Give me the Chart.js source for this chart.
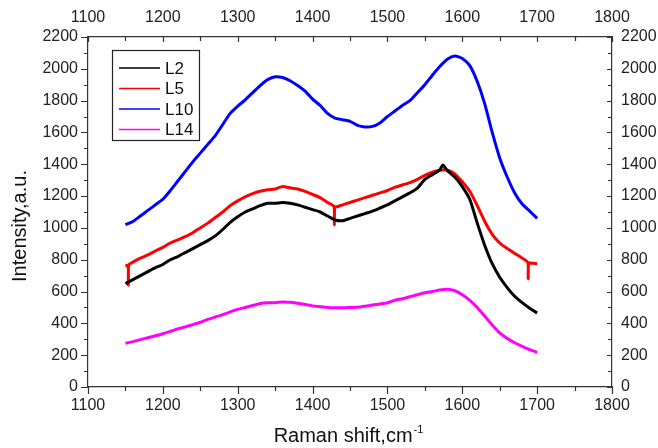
<!DOCTYPE html>
<html>
<head>
<meta charset="utf-8">
<script src="https://cdn.jsdelivr.net/npm/chart.js@4"></script>
<style>
    body { margin: 0; background: #fff; }
    canvas { display: block; }
</style>
</head>
<body>
<canvas id="grafico" width="658" height="448"></canvas>
<script>
// --- DADOS DOS ESPECTROS RAMAN ---
const deslocamentoRaman = [
    1150, 1160, 1170, 1180, 1190, 1200, 1210, 1220, 1230, 1240,
    1250, 1260, 1270, 1280, 1290, 1300, 1310, 1320, 1330, 1340,
    1350, 1360, 1370, 1380, 1390, 1400, 1410, 1420, 1430, 1440,
    1450, 1460, 1470, 1480, 1490, 1500, 1510, 1520, 1530, 1540,
    1550, 1560, 1570, 1580, 1590, 1600, 1610, 1620, 1630, 1640,
    1650, 1660, 1670, 1680, 1690, 1700
];

const intensidadeL2 = [
    650, 675, 700, 725, 750, 770, 800, 820, 845, 870,
    895, 920, 950, 990, 1035, 1070, 1100, 1120, 1140, 1155,
    1155, 1160, 1155, 1145, 1130, 1115, 1100, 1075, 1050, 1045,
    1060, 1075, 1090, 1105, 1125, 1145, 1170, 1195, 1220, 1250,
    1305, 1335, 1365, 1360, 1320, 1260, 1180, 1030, 890, 775,
    690, 625, 570, 530, 495, 465
];

const intensidadeL5 = [
    760, 785, 810, 830, 855, 878, 905, 925, 945, 970,
    1000, 1030, 1065, 1100, 1140, 1170, 1195, 1215, 1230, 1240,
    1245, 1260, 1252, 1245, 1230, 1210, 1190, 1160, 1130, 1145,
    1160, 1175, 1190, 1205, 1220, 1235, 1255, 1270, 1285, 1305,
    1330, 1350, 1362, 1365, 1340, 1290, 1230, 1140, 1040, 960,
    905, 870, 840, 810, 780, 775
];

const intensidadeL10 = [
    1020, 1040, 1075, 1110, 1145, 1180, 1235, 1295, 1355, 1415,
    1470, 1525, 1580, 1650, 1720, 1765, 1805, 1850, 1895, 1932,
    1950, 1945, 1925, 1895, 1860, 1810, 1770, 1720, 1690, 1680,
    1670, 1645, 1635, 1638, 1660, 1700, 1735, 1770, 1800, 1850,
    1900, 1960, 2015, 2060, 2080, 2065, 2020, 1920, 1780, 1600,
    1440, 1320, 1220, 1150, 1105, 1060
];

const intensidadeL14 = [
    275, 285, 298, 310, 322, 335, 350, 365, 378, 392,
    407, 425, 440, 455, 472, 488, 500, 512, 525, 530,
    530, 535, 532, 527, 518, 510, 505, 500, 498, 498,
    500, 502, 508, 515, 522, 530, 545, 555, 567, 580,
    592, 600, 610, 615, 605, 580, 545, 500, 445, 390,
    340, 305, 278, 255, 235, 218
];

// picos isolados (ruído do detector)
const picosL2 = [[1574, 1395]];
const picosL5 = [[1153.6, 765], [1154, 640], [1154.4, 768], [1428.6, 1135], [1429, 1020], [1429.4, 1134], [1687.6, 782], [1688, 680], [1688.4, 781]];

const rotulosX = [1100, 1200, 1300, 1400, 1500, 1600, 1700, 1800];
const rotulosY = [0, 200, 400, 600, 800, 1000, 1200, 1400, 1600, 1800, 2000, 2200];

const nomesSeries = ['L2', 'L5', 'L10', 'L14'];
const coresSeries = ['#000000', '#ff0000', '#0000ff', '#ff00ff'];

function montarPontos(valores, picos) {
    const pontos = deslocamentoRaman.map((x, i) => ({ x: x, y: valores[i] }));
    (picos || []).forEach(p => pontos.push({ x: p[0], y: p[1] }));
    return pontos.sort((a, b) => a.x - b.x);
}

const fonteTexto = '"Liberation Sans", Arial, sans-serif';

// Ticks: inferior/esquerdo para fora, superior/direito para dentro
const ticksManuais = {
    id: 'ticksManuais',
    afterDraw(chart) {
        const ctx = chart.ctx;
        const { x, x2, y, y2 } = chart.scales;
        ctx.save();
        ctx.strokeStyle = '#333';
        ctx.lineWidth = 1.2;
        ctx.beginPath();
        for (let v = rotulosX[0]; v <= rotulosX[rotulosX.length - 1]; v += 50) {
            const px = Math.round(x.getPixelForValue(v)) + 0.5;
            const maior = v % 100 === 0;
            ctx.moveTo(px, x.top);
            ctx.lineTo(px, x.top + (maior ? 7 : 4));
            ctx.moveTo(px, x2.bottom);
            ctx.lineTo(px, x2.bottom + (maior ? 5 : 4));
        }
        for (let v = rotulosY[0]; v <= rotulosY[rotulosY.length - 1]; v += 100) {
            const py = Math.round(y.getPixelForValue(v)) + 0.5;
            const maior = v % 200 === 0;
            ctx.moveTo(y.right, py);
            ctx.lineTo(y.right - (maior ? 7 : 4), py);
            ctx.moveTo(y2.left, py);
            ctx.lineTo(y2.left - (maior ? 5 : 4), py);
        }
        ctx.stroke();
        ctx.restore();
    }
};

// Títulos dos eixos (com sobrescrito no cm-1)
const titulosEixos = {
    id: 'titulosEixos',
    afterDraw(chart) {
        const ctx = chart.ctx;
        const area = chart.chartArea;
        ctx.save();
        ctx.fillStyle = '#111';
        ctx.textBaseline = 'alphabetic';

        const principal = 'Raman shift,cm';
        ctx.font = '11px ' + fonteTexto;
        const wSup = ctx.measureText('-1').width;
        ctx.font = '20px ' + fonteTexto;
        const wPrin = ctx.measureText(principal).width;
        const xIni = (area.left + area.right) / 2 - 2 - (wPrin + wSup) / 2;
        ctx.textAlign = 'left';
        ctx.fillText(principal, xIni, 442);
        ctx.font = '11px ' + fonteTexto;
        ctx.fillText('-1', xIni + wPrin + 1, 433);

        ctx.translate(26, 226);
        ctx.rotate(-Math.PI / 2);
        ctx.font = '20px ' + fonteTexto;
        ctx.textAlign = 'center';
        ctx.fillText('Intensity,a.u.', 0, 0);
        ctx.restore();
    }
};

// Legenda dentro da área do gráfico
const legendaCaixa = {
    id: 'legendaCaixa',
    afterDraw(chart) {
        const ctx = chart.ctx;
        const caixa = { x: 112, y: 50, w: 87, h: 90 };
        ctx.save();
        ctx.fillStyle = '#fff';
        ctx.fillRect(caixa.x, caixa.y, caixa.w, caixa.h);
        ctx.strokeStyle = '#222';
        ctx.lineWidth = 1.2;
        ctx.strokeRect(caixa.x + 0.5, caixa.y + 0.5, caixa.w, caixa.h);
        ctx.font = '17px ' + fonteTexto;
        ctx.textBaseline = 'middle';
        ctx.textAlign = 'left';
        chart.data.datasets.forEach((ds, i) => {
            const ly = caixa.y + 18 + i * 20.5;
            ctx.strokeStyle = ds.borderColor;
            ctx.lineWidth = 1.6;
            ctx.beginPath();
            ctx.moveTo(119, ly);
            ctx.lineTo(160, ly);
            ctx.stroke();
            ctx.fillStyle = '#111';
            ctx.fillText(ds.label, 165, ly + 1);
        });
        ctx.restore();
    }
};

function eixoX(posicao, altura, padding) {
    return {
        type: 'linear',
        position: posicao,
        min: 1100,
        max: 1800,
        grid: { display: false, drawTicks: false },
        border: { display: true, color: '#333', width: 1.2 },
        ticks: {
            stepSize: 100,
            padding: padding,
            autoSkip: false,
            maxRotation: 0,
            color: '#222',
            font: { family: fonteTexto, size: 16 },
            callback: v => String(v)
        },
        afterFit: s => { s.height = altura; }
    };
}

function eixoY(posicao, largura, padding) {
    return {
        type: 'linear',
        position: posicao,
        min: 0,
        max: 2200,
        grid: { display: false, drawTicks: false },
        border: { display: true, color: '#333', width: 1.2 },
        ticks: {
            stepSize: 200,
            padding: padding,
            autoSkip: false,
            color: '#222',
            font: { family: fonteTexto, size: 16 },
            callback: v => String(v)
        },
        afterFit: s => { s.width = largura; }
    };
}

const series = [intensidadeL2, intensidadeL5, intensidadeL10, intensidadeL14];
const picos = [picosL2, picosL5, [], []];

new Chart(document.getElementById('grafico').getContext('2d'), {
    type: 'line',
    data: {
        datasets: series.map((valores, i) => ({
            label: nomesSeries[i],
            data: montarPontos(valores, picos[i]),
            borderColor: coresSeries[i],
            backgroundColor: coresSeries[i],
            borderWidth: 3,
            pointRadius: 0,
            tension: 0.2,
            xAxisID: 'x',
            yAxisID: 'y'
        }))
    },
    options: {
        responsive: false,
        devicePixelRatio: 1,
        animation: false,
        layout: { padding: 0 },
        plugins: {
            legend: { display: false },
            tooltip: { enabled: false }
        },
        scales: {
            x: eixoX('bottom', 61, 9),
            x2: eixoX('top', 37, 10),
            y: eixoY('left', 88, 10),
            y2: eixoY('right', 46, 9)
        }
    },
    plugins: [ticksManuais, titulosEixos, legendaCaixa]
});
</script>
</body>
</html>
